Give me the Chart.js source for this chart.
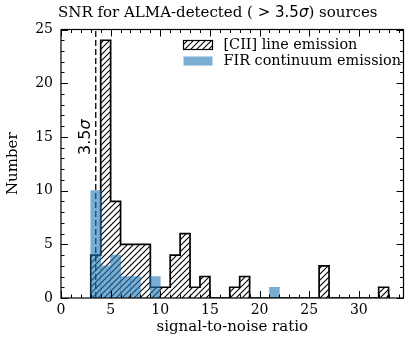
<!DOCTYPE html>
<html>
<head>
<meta charset="utf-8">
<script src="https://cdn.jsdelivr.net/npm/chart.js@4"></script>
<style>
  html, body { margin: 0; padding: 0; background: #fff; }
  #wrap { width: 416px; height: 348px; }
</style>
</head>
<body>
<div id="wrap"><canvas id="snrChart" width="416" height="348"></canvas></div>
<script>
// histogram bins: left edges of unit-width bins (signal-to-noise ratio)
const binStarts = [3, 4, 5, 6, 7, 8, 9, 10, 11, 12, 13, 14, 15, 16, 17, 18, 19, 20, 21, 22, 23, 24, 25, 26, 27, 28, 29, 30, 31, 32];
const binWidth = 1;
// [CII] line emission counts per bin
const ciiCounts = [4, 24, 9, 5, 5, 5, 1, 1, 4, 6, 1, 2, 0, 0, 1, 2, 0, 0, 0, 0, 0, 0, 0, 3, 0, 0, 0, 0, 0, 1];
// FIR continuum emission counts per bin
const firCounts = [10, 3, 4, 2, 2, 0, 2, 0, 0, 0, 0, 0, 0, 0, 0, 0, 0, 0, 1, 0, 0, 0, 0, 0, 0, 0, 0, 0, 0, 0];
const xTicks = [0, 5, 10, 15, 20, 25, 30];
const yTicks = [0, 5, 10, 15, 20, 25];
const threshold = 3.5;
const seriesNames = ["[CII] line emission", "FIR continuum emission"];

const X_MAX = 34.5;
const Y_MAX = 25;
const SERIF = "'DejaVu Serif', serif";
const SANS = "'DejaVu Sans', sans-serif";
const FIR_COLOR = "rgba(31, 119, 180, 0.6)";

function makeHatch() {
  const c = document.createElement("canvas");
  c.width = 6;
  c.height = 6;
  const g = c.getContext("2d");
  g.strokeStyle = "#000";
  g.lineWidth = 1.1;
  g.beginPath();
  g.moveTo(0, 6); g.lineTo(6, 0);
  g.moveTo(-1, 1); g.lineTo(1, -1);
  g.moveTo(5, 7); g.lineTo(7, 5);
  g.stroke();
  return document.getElementById("snrChart").getContext("2d").createPattern(c, "repeat");
}
const hatch = makeHatch();

const centers = binStarts.map((b) => b + binWidth / 2);
const ciiBars = centers.map((x, i) => ({ x: x, y: ciiCounts[i] }));
const firBars = centers.map((x, i) => ({ x: x, y: firCounts[i] }));

// step outline of the [CII] histogram
const ciiOutline = [{ x: binStarts[0], y: 0 }];
binStarts.forEach((b, i) => {
  ciiOutline.push({ x: b, y: ciiCounts[i] });
  ciiOutline.push({ x: b + binWidth, y: ciiCounts[i] });
});
ciiOutline.push({ x: binStarts[binStarts.length - 1] + binWidth, y: 0 });

// draws text pieces one after another, [text, font] pairs
function drawRun(ctx, parts, x, y) {
  parts.forEach(([t, f]) => {
    ctx.font = f;
    ctx.fillText(t, x, y);
    x += ctx.measureText(t).width;
  });
}

const frameTicks = {
  id: "frameTicks",
  afterDatasetsDraw(chart) {
    const { ctx, chartArea: a, scales } = chart;
    const x = scales.x, y = scales.y;
    ctx.save();
    ctx.strokeStyle = "#000";
    ctx.lineWidth = 1;
    ctx.beginPath();
    for (let v = 0; v <= X_MAX; v += 1) {
      const px = Math.round(x.getPixelForValue(v)) + 0.5;
      const len = v % 5 === 0 ? 7 : 3.5;
      ctx.moveTo(px, a.bottom); ctx.lineTo(px, a.bottom - len);
      ctx.moveTo(px, a.top); ctx.lineTo(px, a.top + len);
    }
    for (let v = 0; v <= Y_MAX; v += 1) {
      const py = Math.round(y.getPixelForValue(v)) + 0.5;
      const len = v % 5 === 0 ? 7 : 3.5;
      ctx.moveTo(a.left, py); ctx.lineTo(a.left + len, py);
      ctx.moveTo(a.right, py); ctx.lineTo(a.right - len, py);
    }
    ctx.stroke();
    ctx.lineWidth = 1.2;
    ctx.strokeRect(a.left, a.top, a.right - a.left, a.bottom - a.top);

    // legend, upper right inside the axes
    const bx = a.right - 220;
    const rows = [a.top + 15.5, a.top + 31.5];
    ctx.fillStyle = hatch;
    ctx.fillRect(bx, rows[0] - 4.5, 29, 9);
    ctx.lineWidth = 1.2;
    ctx.strokeRect(bx, rows[0] - 4.5, 29, 9);
    ctx.fillStyle = FIR_COLOR;
    ctx.fillRect(bx, rows[1] - 4.5, 29, 9);
    ctx.fillStyle = "#000";
    ctx.font = "14.4px " + SERIF;
    ctx.textBaseline = "middle";
    ctx.textAlign = "left";
    ctx.fillText(seriesNames[0], bx + 40, rows[0]);
    ctx.fillText(seriesNames[1], bx + 40, rows[1]);

    // title
    drawRun(ctx, [
      ["SNR for ALMA-detected (", "15px " + SERIF],
      [" > 3.5", "15px " + SANS],
      ["σ", "oblique 15px " + SANS],
      [") sources", "15px " + SERIF],
    ], 58, 13);

    // threshold label
    ctx.translate(x.getPixelForValue(2.55), y.getPixelForValue(15));
    ctx.rotate(-Math.PI / 2);
    drawRun(ctx, [
      ["3.5", "16px " + SANS],
      ["σ", "oblique 16px " + SANS],
    ], -18, 0);
    ctx.restore();
  },
};

Chart.defaults.font.family = SERIF;
Chart.defaults.color = "#000";

new Chart(document.getElementById("snrChart"), {
  type: "bar",
  data: {
    datasets: [
      {
        label: seriesNames[0],
        data: ciiBars,
        backgroundColor: hatch,
        borderWidth: 0,
        grouped: false,
        barPercentage: 1,
        categoryPercentage: 1,
        order: 3,
      },
      {
        label: seriesNames[1],
        data: firBars,
        backgroundColor: FIR_COLOR,
        borderWidth: 0,
        grouped: false,
        barPercentage: 1,
        categoryPercentage: 1,
        order: 0,
      },
      {
        type: "line",
        label: "outline",
        data: ciiOutline,
        borderColor: "#000",
        borderWidth: 1.7,
        pointRadius: 0,
        fill: false,
        tension: 0,
        order: 1,
      },
      {
        type: "line",
        label: "threshold",
        data: [{ x: threshold, y: 0 }, { x: threshold, y: Y_MAX }],
        borderColor: "#000",
        borderWidth: 1.3,
        borderDash: [6, 3],
        pointRadius: 0,
        fill: false,
        order: 2,
      },
    ],
  },
  options: {
    responsive: false,
    animation: false,
    layout: { padding: { left: 0, right: 12.5, top: 29.5, bottom: 0 } },
    plugins: {
      legend: { display: false },
      tooltip: { enabled: false },
      title: { display: false },
    },
    scales: {
      x: {
        type: "linear",
        min: 0,
        max: X_MAX,
        offset: false,
        grid: { display: false, drawTicks: false, offset: false },
        border: { display: false },
        afterBuildTicks: (scale) => {
          scale.ticks = xTicks.map((v) => ({ value: v }));
        },
        afterFit: (scale) => {
          scale.height = 50;
        },
        ticks: { font: { family: SERIF, size: 14 }, padding: 4, maxRotation: 0, autoSkip: false },
        title: {
          display: true,
          text: "signal-to-noise ratio",
          font: { family: SERIF, size: 15 },
          padding: { top: 12, bottom: 12 },
        },
      },
      y: {
        min: 0,
        max: Y_MAX,
        grid: { display: false, drawTicks: false },
        border: { display: false },
        afterBuildTicks: (scale) => {
          scale.ticks = yTicks.map((v) => ({ value: v }));
        },
        afterFit: (scale) => {
          scale.width = 61;
        },
        ticks: { font: { family: SERIF, size: 14 }, padding: 8, autoSkip: false },
        title: {
          display: true,
          text: "Number",
          font: { family: SERIF, size: 15 },
          padding: { top: 4, bottom: 4 },
        },
      },
    },
  },
  plugins: [frameTicks],
});
</script>
</body>
</html>
